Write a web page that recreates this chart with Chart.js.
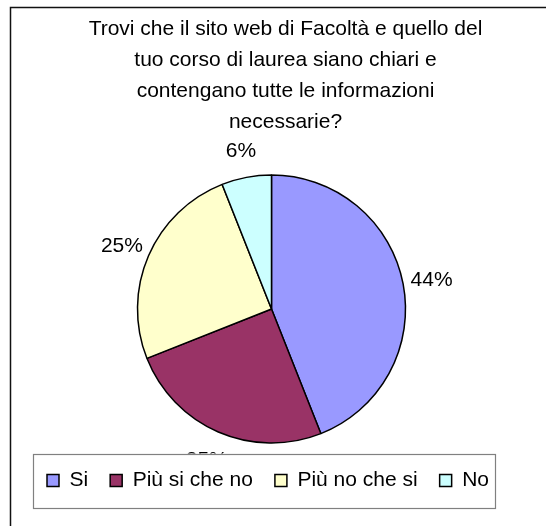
<!DOCTYPE html>
<html>
<head>
<meta charset="utf-8">
<title>Sito web di Facoltà</title>
<script src="https://cdn.jsdelivr.net/npm/chart.js@4/dist/chart.umd.min.js"></script>
<style>
  html, body { margin: 0; padding: 0; background: #fff; overflow: hidden; }
  #wrap { position: relative; width: 546px; height: 526px; }
</style>
</head>
<body>
<div id="wrap"><canvas id="pieChart"></canvas></div>
<script>
// data
const titleLines = [
  'Trovi che il sito web di Facoltà e quello del',
  'tuo corso di laurea siano chiari e',
  'contengano tutte le informazioni',
  'necessarie?'
];
const labels = ['Si', 'Più si che no', 'Più no che si', 'No'];
const values = [44, 25, 25, 6];
const colors = ['#9999FF', '#993366', '#FFFFCC', '#CCFFFF'];

const FONT = "'Liberation Sans', Arial, sans-serif";

// outer frame of the Excel chart (runs off the right and bottom edges)
const framePlugin = {
  id: 'frame',
  beforeDraw(chart) {
    const ctx = chart.ctx;
    ctx.save();
    ctx.fillStyle = '#fff';
    ctx.fillRect(0, 0, chart.width, chart.height);
    ctx.strokeStyle = '#111';
    ctx.lineWidth = 1.5;
    ctx.beginPath();
    ctx.moveTo(10.5, chart.height);
    ctx.lineTo(10.5, 7.5);
    ctx.lineTo(chart.width, 7.5);
    ctx.stroke();
    ctx.restore();
  }
};

// pie sits a bit left of the title centre
const shiftPlugin = {
  id: 'shiftArea',
  afterLayout(chart) {
    chart.chartArea.right -= 28;
    chart.chartArea.width -= 28;
  }
};

// percentage labels outside the slices
const percentPlugin = {
  id: 'percent',
  afterDatasetsDraw(chart) {
    const ctx = chart.ctx;
    const meta = chart.getDatasetMeta(0);
    const total = values.reduce((a, b) => a + b, 0);
    ctx.save();
    ctx.font = '21px ' + FONT;
    ctx.fillStyle = '#000';
    ctx.textAlign = 'center';
    ctx.textBaseline = 'middle';
    meta.data.forEach((arc, i) => {
      const p = arc.getProps(['x', 'y', 'startAngle', 'endAngle', 'outerRadius'], true);
      const mid = (p.startAngle + p.endAngle) / 2;
      const r = p.outerRadius + 29;
      const txt = Math.round(values[i] / total * 100) + '%';
      ctx.fillText(txt, p.x + Math.cos(mid) * r, p.y + Math.sin(mid) * r + 2);
    });
    ctx.restore();
  },
  // legend box is drawn over the labels, like in the original
  afterDraw(chart) {
    const lg = chart.legend;
    const boxes = lg.legendHitBoxes;
    if (!boxes || !boxes.length) return;
    const first = boxes[0];
    const last = boxes[boxes.length - 1];
    const cy = first.top + first.height / 2;
    const x0 = first.left - 14;
    const x1 = last.left + last.width + 6;
    const ctx = chart.ctx;
    ctx.save();
    ctx.fillStyle = '#fff';
    ctx.fillRect(x0, cy - 27, x1 - x0, 54);
    ctx.strokeStyle = '#808080';
    ctx.lineWidth = 1.2;
    ctx.strokeRect(Math.round(x0) + 0.5, Math.round(cy - 27) + 0.5, Math.round(x1 - x0), 54);
    ctx.restore();
    lg.draw();
  }
};

new Chart(document.getElementById('pieChart'), {
  type: 'pie',
  data: {
    labels: labels,
    datasets: [{
      data: values,
      backgroundColor: colors,
      borderColor: '#000',
      borderWidth: 1.5,
      radius: 134
    }]
  },
  options: {
    responsive: true,
    maintainAspectRatio: false,
    animation: false,
    layout: { padding: { left: 25, right: 0, top: 0, bottom: 25 } },
    plugins: {
      title: {
        display: true,
        text: titleLines,
        color: '#000',
        font: { family: FONT, size: 21, weight: 'normal', lineHeight: 31 / 21 },
        padding: { top: 14, bottom: 32 }
      },
      legend: {
        position: 'bottom',
        align: 'start',
        labels: {
          color: '#000',
          font: { family: FONT, size: 21 },
          boxWidth: 12,
          boxHeight: 12,
          padding: 22,
          generateLabels(chart) {
            return labels.map((l, i) => ({
              text: l,
              fillStyle: colors[i],
              strokeStyle: '#000',
              lineWidth: 1.5,
              hidden: false,
              index: i
            }));
          }
        }
      },
      tooltip: { enabled: false }
    }
  },
  plugins: [framePlugin, shiftPlugin, percentPlugin]
});
</script>
</body>
</html>
